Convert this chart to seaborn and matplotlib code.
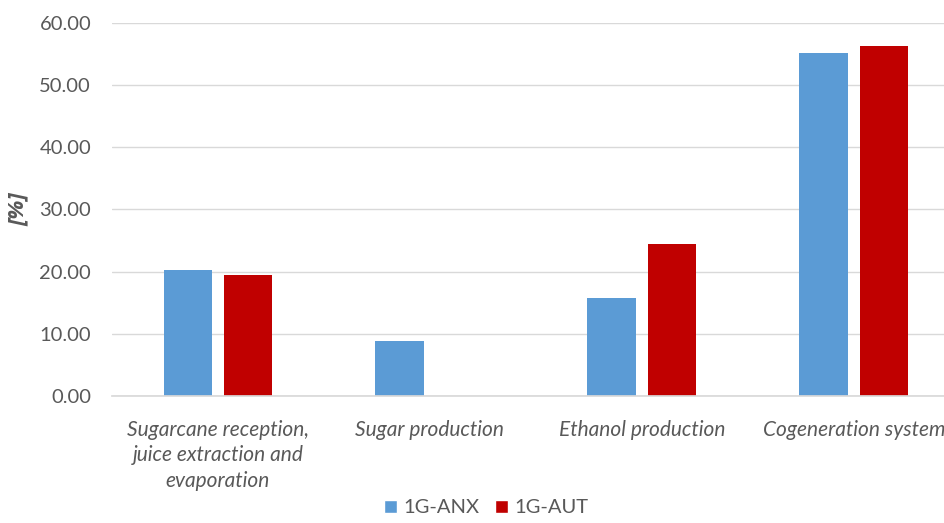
import matplotlib
matplotlib.use("Agg")
import matplotlib.pyplot as plt
import seaborn as sns
import pandas as pd
from matplotlib.patches import Patch

categories = ["Sugarcane reception,\njuice extraction and\nevaporation",
              "Sugar production", "Ethanol production", "Cogeneration system"]
series_names = ["1G-ANX", "1G-AUT"]
anx_values = [20.28, 8.93, 15.79, 55.08]
aut_values = [19.43, 0.0, 24.41, 56.25]
colors = ["#5B9BD5", "#C00000"]

df = pd.DataFrame({
    "category": categories * 2,
    "series": [series_names[0]] * 4 + [series_names[1]] * 4,
    "value": anx_values + aut_values,
})

sns.set_theme(style="white")
plt.rcParams['font.family'] = ['Lato', 'DejaVu Sans']
grey = "#595959"

fig = plt.figure(figsize=(9.44, 5.23), dpi=100)
ax = fig.add_axes([0.1186, 0.2423, 0.898, 0.7143])

sns.barplot(data=df, x="category", y="value", hue="series", palette=colors,
            width=0.57, gap=0.2, linewidth=0, saturation=1, ax=ax, legend=False,
            errorbar=None)

ax.set_xlim(-0.5, 3.5)
ax.set_ylim(0, 60)
ax.set_yticks(range(0, 61, 10))
ax.set_yticklabels([f"{v:.2f}" for v in range(0, 61, 10)], fontsize=14.5, color=grey)
ax.yaxis.grid(True, color="#D9D9D9", linewidth=1)
ax.set_axisbelow(True)
for s in ["top", "right", "left"]:
    ax.spines[s].set_visible(False)
ax.spines["bottom"].set_color("#D9D9D9")
ax.tick_params(axis="y", length=0, pad=15)
ax.set_xlabel("")
ax.set_xticks(range(len(categories)))
ax.set_xticklabels(categories, fontsize=15, color=grey, style="italic",
                   linespacing=1.35, va="top")
ax.tick_params(axis="x", length=0, pad=17)
ax.set_ylabel("[%]", fontsize=16, color=grey, style="italic", fontweight="bold",
              family=["Open Sans", "DejaVu Sans"])
ax.yaxis.set_label_coords(-0.098, 0.5)

handles = [Patch(facecolor=c, label=n) for c, n in zip(colors, series_names)]
leg = fig.legend(handles=handles, loc="lower center", bbox_to_anchor=(0.515, -0.022),
                 ncol=2, frameon=False, fontsize=14.5, handlelength=0.65,
                 handleheight=0.65, handletextpad=0.3, columnspacing=0.8)
for t in leg.get_texts():
    t.set_color(grey)

fig.savefig("out.png", dpi=100)
